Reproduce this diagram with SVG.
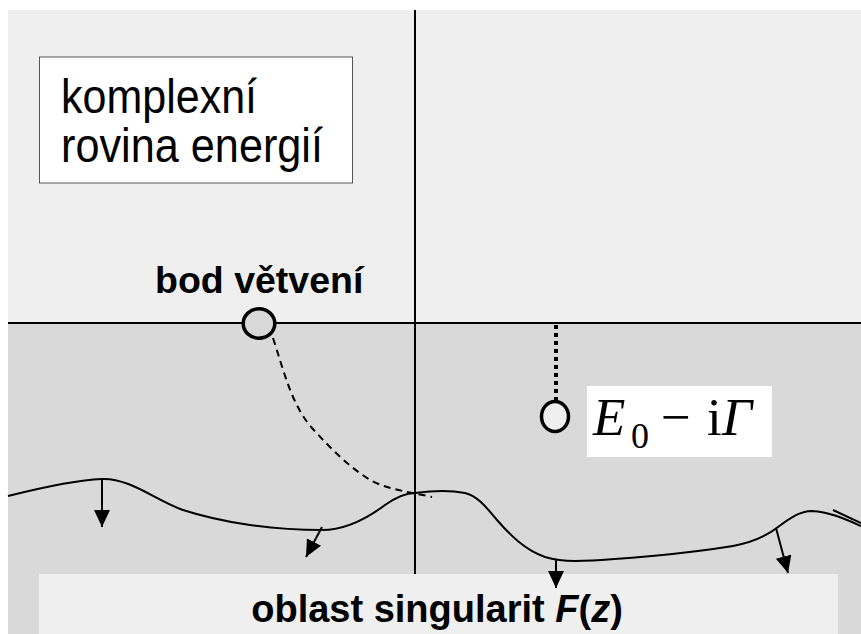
<svg xmlns="http://www.w3.org/2000/svg" width="861" height="634" viewBox="0 0 861 634">
<style>
.ax{stroke:#000;stroke-width:2;fill:none}
.cv{stroke:#000;stroke-width:2;fill:none}
.ar{stroke:#000;stroke-width:2;fill:none;marker-end:url(#ah)}
.sans{font-family:"Liberation Sans",Arial,sans-serif;fill:#000}
.serif{font-family:"Liberation Serif","Times New Roman",serif;fill:#000}
</style>
<defs>
<marker id="ah" markerUnits="userSpaceOnUse" markerWidth="18" markerHeight="17" refX="17" refY="8" orient="auto">
<path d="M0,0 L17,8 L0,16 z" fill="#000"/>
</marker>
</defs>
<rect x="0" y="0" width="861" height="634" fill="#fff"/>
<g id="plane">
<rect x="8" y="10" width="853" height="313" fill="#efefef"/>
<rect x="8" y="323" width="853" height="311" fill="#d9d9d9"/>
</g>
<g id="region-box">
<rect x="39" y="574" width="799" height="60" fill="#efefef"/>
<text class="sans" x="437" y="622" font-size="38" font-weight="bold" text-anchor="middle">oblast singularit <tspan font-style="italic">F</tspan>(<tspan font-style="italic">z</tspan>)</text>
</g>
<g id="connectors">
<line class="ax" x1="8" y1="323" x2="861" y2="323"/>
<line class="ax" x1="415" y1="10" x2="415" y2="574"/>
<path class="cv" d="M8,496 C40,488 75,480 102,479 C130,478 155,500 183,510 C220,522 270,530 322,530 C345,530 365,520 385,505 C395,498 405,493 415,493 C430,491 450,490 465,493 C480,497 488,510 497,520 C510,535 525,550 545,557 C555,560 565,561 575,561 C620,560 690,553 733,546 C755,542 768,535 778,527 C790,518 800,511 812,511 C830,512 845,519 861,526"/>
<path class="cv" d="M833,510 L861,523"/>
<path class="cv" stroke-dasharray="7,5" d="M273,338 C285,375 292,405 312,428 C332,450 350,468 372,481 C390,490 410,492 432,497"/>
<line x1="556" y1="325" x2="556" y2="400" stroke="#000" stroke-width="4" stroke-dasharray="4,4"/>
<path class="ar" d="M102,479 L102,527"/>
<path class="ar" d="M322,527 L306,557"/>
<path class="ar" d="M556,560 L556,588"/>
<path class="ar" d="M776,528 L788,573"/>
</g>
<g id="title-box">
<rect x="39.5" y="57" width="313" height="126" fill="#fff" stroke="#555" stroke-width="1"/>
<text class="sans" x="61" y="113" font-size="48" textLength="196" lengthAdjust="spacingAndGlyphs">komplexní</text>
<text class="sans" x="61" y="162" font-size="48" textLength="262" lengthAdjust="spacingAndGlyphs">rovina energií</text>
</g>
<g id="branch-point">
<text class="sans" x="155" y="293" font-size="37.5" font-weight="bold">bod větvení</text>
<ellipse cx="259" cy="323.5" rx="15.8" ry="14.7" fill="#d9d9d9" stroke="#000" stroke-width="3.5"/>
</g>
<g id="pole">
<ellipse cx="555" cy="416.5" rx="13.5" ry="15" fill="#efefef" stroke="#000" stroke-width="3.5"/>
<rect x="587" y="386" width="185" height="71" fill="#fff"/>
<text class="serif" x="593" y="435" font-size="53" font-style="italic">E</text>
<text class="serif" x="631" y="448" font-size="36">0</text>
<text class="serif" x="661" y="435" font-size="53">−</text>
<text class="serif" x="707" y="435" font-size="53">i</text>
<text class="serif" x="722" y="435" font-size="53" font-style="italic">Γ</text>
</g>
</svg>
